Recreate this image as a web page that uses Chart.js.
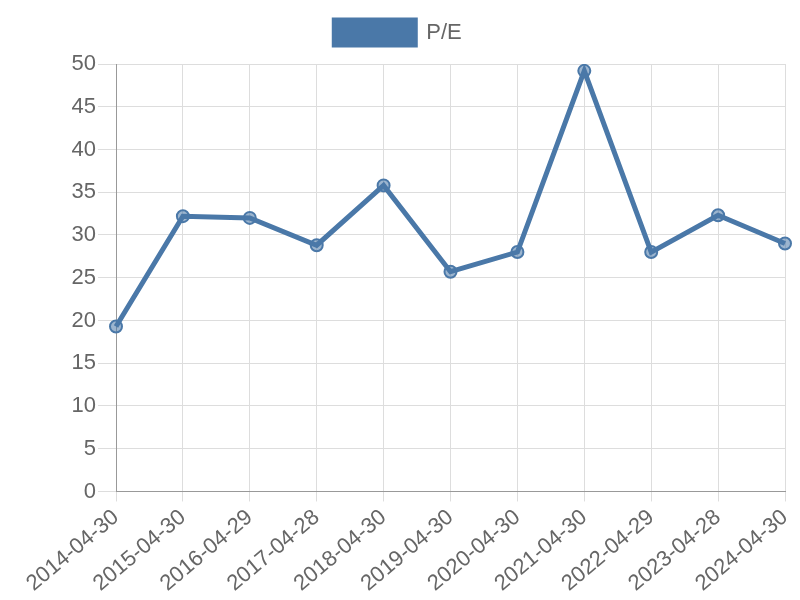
<!DOCTYPE html>
<html>
<head>
  <meta charset="UTF-8">
  <script src="https://cdn.jsdelivr.net/npm/chart.js"></script>
  <style>
    body { margin: 0; background: #fff; }
    #wrap { width: 800px; height: 600px; }
  </style>
</head>
<body>
<div id="wrap"><canvas id="peChart"></canvas></div>
<script>
  const dates = ['2014-04-30', '2015-04-30', '2016-04-29', '2017-04-28', '2018-04-30', '2019-04-30',
                 '2020-04-30', '2021-04-30', '2022-04-29', '2023-04-28', '2024-04-30'];
  const peValues = [19.3, 32.2, 32.0, 28.8, 35.8, 25.7, 28.0, 49.2, 28.0, 32.3, 29.0];
  const seriesName = 'P/E';

  Chart.defaults.font.family = '"Liberation Sans", Arial, sans-serif';
  Chart.defaults.color = '#666';

  // a bit more room under the legend
  const legendGap = {
    id: 'legendGap',
    beforeInit(chart) {
      const fit = chart.legend.fit;
      chart.legend.fit = function () {
        fit.bind(chart.legend)();
        this.height += 9;
      };
    }
  };

  new Chart(document.getElementById('peChart'), {
    type: 'line',
    data: {
      labels: dates,
      datasets: [{
        label: seriesName,
        data: peValues,
        borderColor: '#4a78a8',
        backgroundColor: '#4a78a8',
        borderWidth: 5,
        pointRadius: 6,
        pointBorderWidth: 2,
        pointBackgroundColor: 'rgba(74,120,168,0.55)',
        pointBorderColor: '#4a78a8',
        fill: false,
        tension: 0
      }]
    },
    options: {
      responsive: true,
      maintainAspectRatio: false,
      animation: false,
      layout: { padding: { left: 0, right: 4, top: 10, bottom: 0 } },
      plugins: {
        legend: {
          labels: {
            boxWidth: 81,
            boxHeight: 25,
            padding: 10,
            font: { size: 22 }
          }
        },
        tooltip: { enabled: false }
      },
      scales: {
        x: {
          afterFit: (s) => { s.paddingRight = 15; },
          grid: { color: '#ddd', tickLength: 10 },
          border: { color: '#999' },
          ticks: { font: { size: 22 }, maxRotation: 40, minRotation: 40, autoSkip: false }
        },
        y: {
          min: 0,
          max: 50,
          afterFit: (s) => { s.width = 116; },
          grid: { color: '#ddd', tickLength: 18 },
          border: { color: '#999' },
          ticks: { stepSize: 5, font: { size: 22 }, padding: 2 }
        }
      }
    },
    plugins: [legendGap]
  });
</script>
</body>
</html>
